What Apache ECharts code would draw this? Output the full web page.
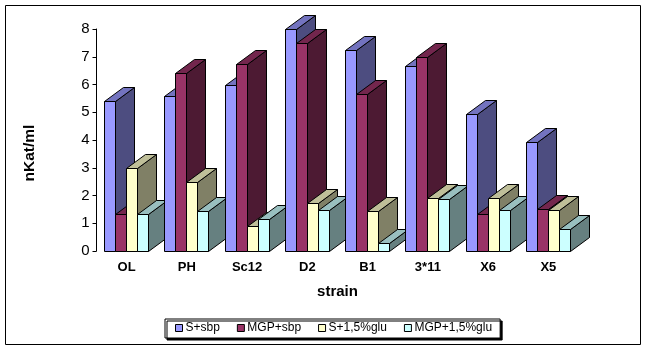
<!DOCTYPE html>
<html>
<head>
<meta charset="utf-8">
<style>html,body{margin:0;padding:0;background:#fff}#c{width:645px;height:350px}</style>
<script src="https://cdn.jsdelivr.net/npm/echarts@6/dist/echarts.min.js"></script>
</head>
<body>
<div id="c"></div>
<script>
const categories = ['OL','PH','Sc12','D2','B1','3*11','X6','X5'];
const sSbp   = [5.4,5.58,6.0,8.0,7.24,6.67,4.94,3.93];
const mgpSbp = [1.33,6.41,6.74,7.5,5.66,7.0,1.33,1.51];
const sGlu   = [2.99,2.49,0.9,1.73,1.44,1.91,1.91,1.48];
const mgpGlu = [1.33,1.44,1.15,1.48,0.29,1.87,1.48,0.79];
const seriesNames = ['S+sbp','MGP+sbp','S+1,5%glu','MGP+1,5%glu'];
const seriesValues = [sSbp,mgpSbp,sGlu,mgpGlu];
const frontColors = ['#9999FF','#993366','#FFFFCC','#CCFFFF'];
const topColors   = ['#7373BF','#73264D','#BFBF99','#99BFBF'];
const sideColors  = ['#4D4D80','#4D1A33','#808066','#668080'];

const DEPTH_X = 19, DEPTH_Y = 14, BAR_FRAC = 0.182, FONT = '"Liberation Sans", Arial, sans-serif';
const snapX = v => Math.floor(v) + 0.5;
const snapY = v => Math.round(v) + 0.5;

function makeRender(si){
  return function(params, api){
    const cat = api.value(0), val = api.value(1);
    const base = api.coord([cat, 0]);
    const top = api.coord([cat, val]);
    const band = api.size([1,0])[0];
    const w = band * BAR_FRAC;
    const left = base[0] - 2*w + si*w;
    const x0 = snapX(left), x1 = snapX(left + w);
    const y0 = snapY(base[1]), y1 = snapY(top[1]);
    const style = f => ({fill:f, stroke:'#000', lineWidth:1});
    const z2 = cat*10 + si;
    return {type:'group', children:[
      {type:'polygon', z2:z2, silent:true, shape:{points:[[x1,y1],[x1+DEPTH_X,y1-DEPTH_Y],[x1+DEPTH_X,y0-DEPTH_Y],[x1,y0]]}, style:style(sideColors[si])},
      {type:'polygon', z2:z2, silent:true, shape:{points:[[x0,y1],[x0+DEPTH_X,y1-DEPTH_Y],[x1+DEPTH_X,y1-DEPTH_Y],[x1,y1]]}, style:style(topColors[si])},
      {type:'polygon', z2:z2, silent:true, shape:{points:[[x0,y1],[x1,y1],[x1,y0],[x0,y0]]}, style:style(frontColors[si])}
    ]};
  };
}

const chart = echarts.init(document.getElementById('c'), null, {renderer:'canvas'});
chart.setOption({
  animation:false,
  backgroundColor:'#fff',
  graphic:[{type:'rect', silent:true, z:-10, shape:{x:5.5,y:5.5,width:635,height:339}, style:{fill:'#fff',stroke:'#000',lineWidth:1}}],
  grid:{left:96.5, top:29, width:482, height:222, containLabel:false},
  xAxis:{
    type:'category', data:categories,
    name:'strain', nameLocation:'middle', nameGap:33,
    nameTextStyle:{fontFamily:FONT,fontSize:15,fontWeight:'bold',color:'#000'},
    axisLine:{show:false}, axisTick:{show:false},
    axisLabel:{fontFamily:FONT,fontSize:13,fontWeight:'bold',color:'#000',margin:10,interval:0}
  },
  yAxis:{
    type:'value', min:0, max:8, interval:1,
    name:'nKat/ml', nameLocation:'middle', nameGap:59, nameRotate:90,
    nameTextStyle:{fontFamily:FONT,fontSize:15.5,fontWeight:'bold',color:'#000',padding:[0,26,0,0]},
    splitLine:{show:false},
    axisLine:{show:true,lineStyle:{color:'#000',width:1}},
    axisTick:{show:true,length:4,lineStyle:{color:'#000',width:1}},
    axisLabel:{fontFamily:FONT,fontSize:15,color:'#000',margin:7}
  },
  legend:{
    left:165, top:319, orient:'horizontal', selectedMode:false,
    data:seriesNames, icon:'rect', itemWidth:7, itemHeight:7, itemGap:17,
    padding:[3,8,4,10],
    backgroundColor:'#fff', borderColor:'#000', borderWidth:1,
    shadowColor:'#000', shadowBlur:0, shadowOffsetX:2, shadowOffsetY:2,
    itemStyle:{borderColor:'#000',borderWidth:1},
    textStyle:{fontFamily:FONT,fontSize:12,color:'#000',padding:[0,0,0,-2]}
  },
  series: seriesNames.map((name,si)=>({
    type:'custom', name:name, silent:true, clip:false,
    coordinateSystem:'cartesian2d',
    itemStyle:{color:frontColors[si]},
    encode:{x:0,y:1},
    renderItem:makeRender(si),
    data:seriesValues[si].map((v,i)=>[i,v])
  }))
});
</script>
</body>
</html>
